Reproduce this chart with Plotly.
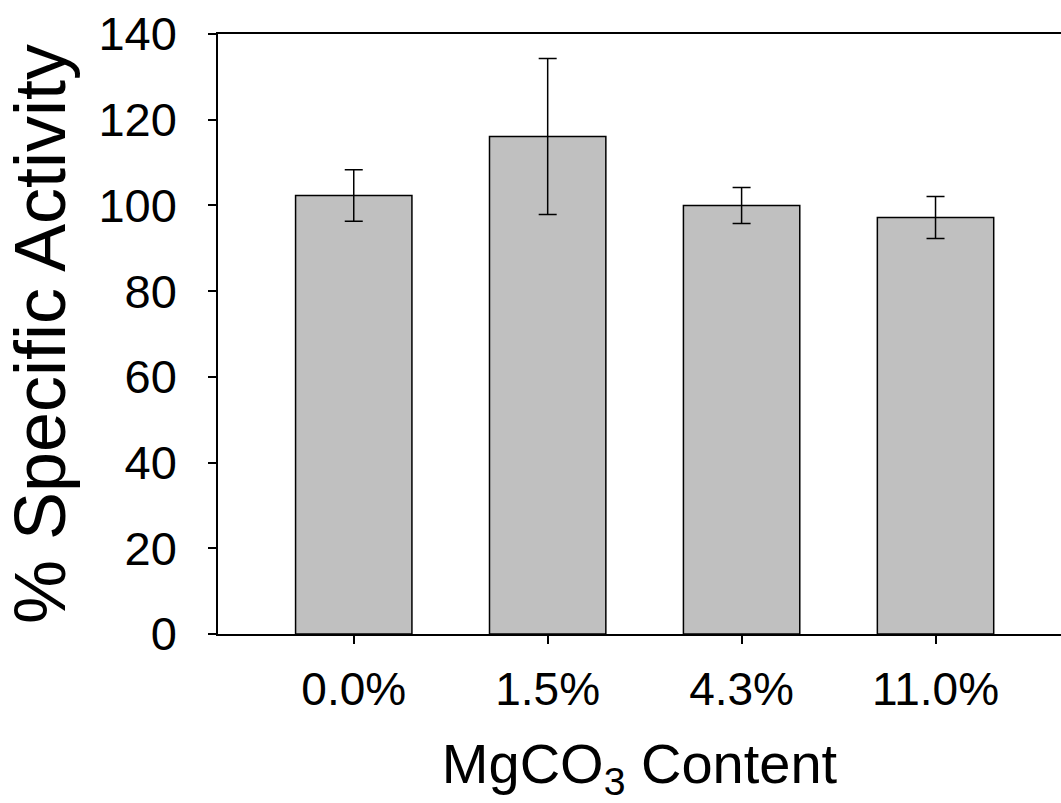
import plotly.graph_objects as go

# MgCO3 content of the formulation and the measured specific activity
categories = ["0.0%", "1.5%", "4.3%", "11.0%"]
activity = [102.3, 116.1, 100.0, 97.2]
activity_err = [6.0, 18.2, 4.2, 4.9]

FONT = "Liberation Sans, Arial, sans-serif"

fig = go.Figure(
    go.Bar(
        x=list(range(len(categories))),
        y=activity,
        width=0.6,
        marker=dict(color="#c0c0c0", line=dict(color="black", width=1.5)),
        error_y=dict(type="data", array=activity_err, visible=True,
                     color="black", thickness=1.5, width=9),
        showlegend=False,
    )
)

fig.update_layout(
    width=1061,
    height=803,
    margin=dict(l=218, r=0, t=34, b=169),
    paper_bgcolor="white",
    plot_bgcolor="white",
    font=dict(family=FONT, color="black"),
)

fig.update_xaxes(
    range=[-0.7, 3.647],
    tickmode="array",
    tickvals=list(range(len(categories))),
    ticktext=categories,
    ticks="outside",
    ticklen=8,
    tickwidth=1.5,
    tickcolor="black",
    tickfont=dict(size=46, family=FONT),
    ticklabelstandoff=6,
    showline=True,
    linecolor="black",
    linewidth=1.5,
    mirror=True,
    showgrid=False,
    zeroline=False,
    title=dict(text="MgCO<sub>3</sub> Content", font=dict(size=56, family=FONT), standoff=40),
)

fig.update_yaxes(
    range=[0, 140],
    dtick=20,
    ticks="outside",
    ticklen=8,
    tickwidth=1.5,
    tickcolor="black",
    tickfont=dict(size=47, family=FONT),
    ticklabelstandoff=22,
    showline=True,
    linecolor="black",
    linewidth=1.5,
    showgrid=False,
    zeroline=False,
    title=dict(text="% Specific Activity", font=dict(size=72, family=FONT), standoff=22),
)

fig.write_html("out.html")
